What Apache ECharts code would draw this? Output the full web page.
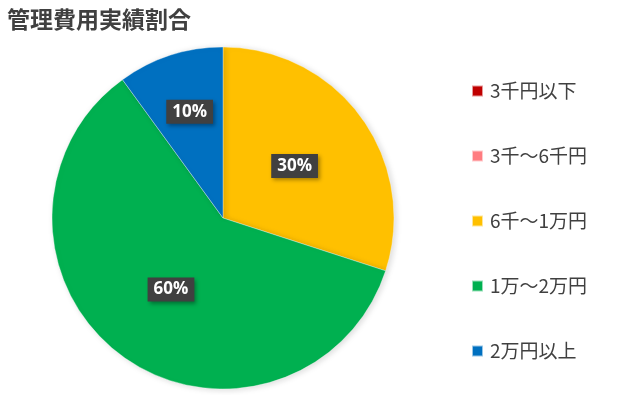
<!DOCTYPE html>
<html>
<head>
<meta charset="utf-8">
<script src="https://cdn.jsdelivr.net/npm/echarts@6/dist/echarts.min.js"></script>
<style>html,body{margin:0;padding:0;background:#fff}#c{width:640px;height:395px}</style>
</head>
<body>
<div id="c"></div>
<script>
const titleText = '管理費用実績割合';
const categories = ['3千円以下', '3千～6千円', '6千～1万円', '1万～2万円', '2万円以上'];
const values = [0, 0, 30, 60, 10];
const colors = ['#C00000', '#FF7C80', '#FFC000', '#00B050', '#0070C0'];

const chart = echarts.init(document.getElementById('c'), null, {renderer: 'canvas'});
const data = categories.map((name, i) => ({
  name: name,
  value: values[i],
  itemStyle: {color: colors[i]},
  label: values[i] === 10 ? {show: true, offset: [-6, -22]} : {show: values[i] > 0}
}));
chart.setOption({
  animation: false,
  backgroundColor: '#ffffff',
  title: {
    text: titleText,
    left: 2, top: 3,
    textStyle: {fontFamily: 'Noto Sans CJK JP', fontSize: 23, fontWeight: 'bold', color: '#404040'}
  },
  legend: {
    orient: 'vertical',
    left: 466, top: 75,
    padding: 5,
    itemWidth: 11, itemHeight: 11,
    itemGap: 43,
    icon: 'rect',
    selectedMode: false,
    textStyle: {fontFamily: 'Noto Sans CJK JP', fontSize: 19, color: '#404040', lineHeight: 22, padding: [0,0,0,2]},
    data: categories
  },
  series: [{
    type: 'pie',
    center: [223, 218],
    radius: 171,
    startAngle: 90,
    clockwise: true,
    avoidLabelOverlap: false,
    data: data,
    itemStyle: {borderColor: 'rgba(255,255,255,0.6)', borderWidth: 0.6, shadowColor: 'rgba(0,0,0,0.15)', shadowBlur: 6, shadowOffsetX: 2, shadowOffsetY: 1},
    label: {
      position: 'inside',
      formatter: '{d}%',
      fontFamily: 'Open Sans',
      fontWeight: 'bold',
      fontSize: 17,
      color: '#ffffff',
      backgroundColor: '#404040',
      padding: [4, 6, 3, 6],
      shadowColor: 'rgba(0,0,0,0.35)',
      shadowBlur: 4,
      shadowOffsetX: 2,
      shadowOffsetY: 2
    },
    labelLine: {show: false},
    emphasis: {disabled: true}
  }]
});
</script>
</body>
</html>
